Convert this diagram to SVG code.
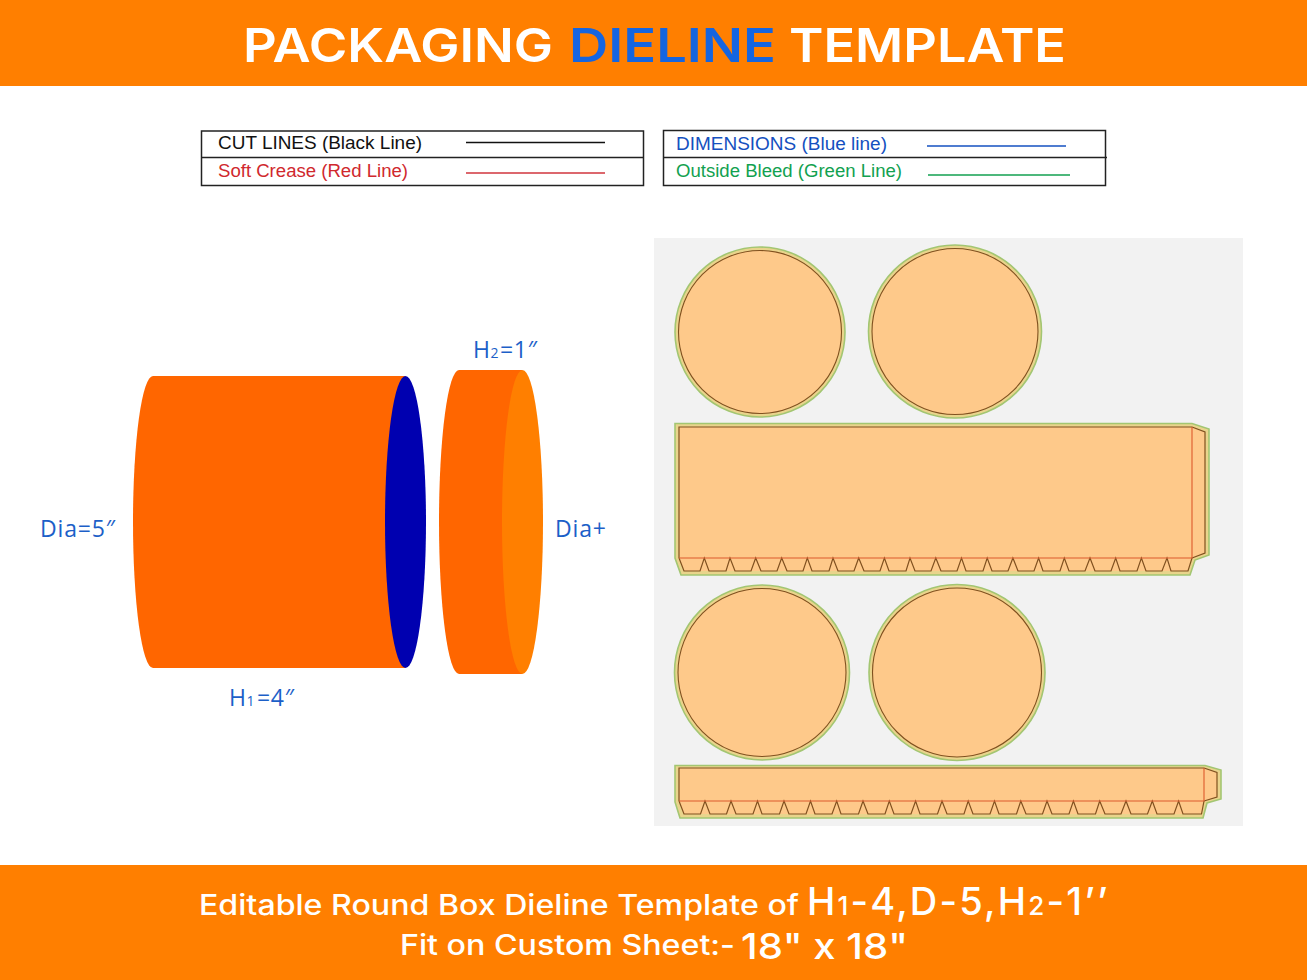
<svg xmlns="http://www.w3.org/2000/svg" width="1307" height="980" viewBox="0 0 1307 980">
<style>
.band{fill:#ff7f00}
.hd{font-family:"Inter","Liberation Sans",sans-serif;font-weight:600;font-size:46px}
.ft{font-family:"Inter","Liberation Sans",sans-serif;font-weight:500;fill:#fff}
.lg{font-family:"Liberation Sans",Arial,sans-serif;font-size:18.300px}
.dim{font-family:"Open Sans","Noto Sans",sans-serif;font-size:23px;fill:#1c5fc8}
.sub{font-family:"Open Sans","Noto Sans",sans-serif;font-size:14px;fill:#1c5fc8}
.box{fill:none;stroke:#222;stroke-width:1.5}
.bleed{fill:#e9d48c;stroke:#a3c672;stroke-width:1.6}
.art{fill:#fec98a;stroke:#80501f;stroke-width:1.1}
.crease{fill:none;stroke:#dc5a2c;stroke-width:1.1}
.cut{fill:none;stroke:#80501f;stroke-width:1.2}
</style>
<rect width="1307" height="980" fill="#fff"/>
<g id="header">
<rect class="band" width="1307" height="86"/>
<text class="hd" x="243" y="62" fill="#fff" textLength="310" lengthAdjust="spacingAndGlyphs">PACKAGING</text>
<text class="hd" x="569" y="62" fill="#1565e0" textLength="207" lengthAdjust="spacingAndGlyphs">DIELINE</text>
<text class="hd" x="789" y="62" fill="#fff" textLength="277" lengthAdjust="spacingAndGlyphs">TEMPLATE</text>
</g>
<g id="legend-left">
<rect class="box" x="201.500" y="131" width="442" height="54.500"/>
<line class="box" x1="201" y1="157.500" x2="644" y2="157.500"/>
<text class="lg" x="218" y="149" fill="#111" textLength="204" lengthAdjust="spacingAndGlyphs">CUT LINES (Black Line)</text>
<text class="lg" x="218" y="177" fill="#d0282e" textLength="190" lengthAdjust="spacingAndGlyphs">Soft Crease (Red Line)</text>
<line x1="466" y1="142.500" x2="605" y2="142.500" stroke="#111" stroke-width="1.500"/>
<line x1="466" y1="173" x2="605" y2="173" stroke="#d0343c" stroke-width="1.500"/>
</g>
<g id="legend-right">
<rect class="box" x="663.500" y="130.500" width="442" height="55"/>
<line class="box" x1="663" y1="157.500" x2="1107" y2="157.500"/>
<text class="lg" x="676" y="150" fill="#1450c0" textLength="211" lengthAdjust="spacingAndGlyphs">DIMENSIONS (Blue line)</text>
<text class="lg" x="676" y="177" fill="#12a150" textLength="226" lengthAdjust="spacingAndGlyphs">Outside Bleed (Green Line)</text>
<line x1="927" y1="146" x2="1066" y2="146" stroke="#1450c0" stroke-width="1.500"/>
<line x1="928" y1="175" x2="1070" y2="175" stroke="#12a150" stroke-width="1.500"/>
</g>
<g id="box-base">
<path d="M153,376H405V668H153A20,146 0 0 1 153,376Z" fill="#ff6600"/>
<ellipse cx="405.500" cy="522" rx="20.500" ry="146" fill="#0000b0"/>
</g>
<g id="box-lid">
<path d="M459,370H522V674H459A20,152 0 0 1 459,370Z" fill="#ff6600"/>
<ellipse cx="522.500" cy="522" rx="20.500" ry="152" fill="#ff7f00"/>
</g>
<g id="dimension-labels">
<text class="dim" x="40" y="536.500" textLength="75" lengthAdjust="spacing">Dia=5″</text>
<text class="dim" x="555" y="536.500" textLength="51" lengthAdjust="spacing">Dia+</text>
<text class="dim" x="473" y="358">H</text><text class="sub" x="490.500" y="358">2</text><text class="dim" x="500" y="358" textLength="37" lengthAdjust="spacing">=1″</text>
<text class="dim" x="229" y="705.500">H</text><text class="sub" x="246.500" y="705.500">1</text><text class="dim" x="257" y="705.500" textLength="37" lengthAdjust="spacing">=4″</text>
</g>
<rect id="sheet" x="654" y="238" width="589" height="588" fill="#f2f2f2"/>
<g id="circle-1"><circle class="bleed" cx="760" cy="332" r="85"/><circle class="art" cx="760" cy="332" r="81.500"/></g>
<g id="circle-2"><circle class="bleed" cx="955" cy="331.500" r="86.500"/><circle class="art" cx="955" cy="331.500" r="83"/></g>
<g id="circle-3"><circle class="bleed" cx="762" cy="672.500" r="87.500"/><circle class="art" cx="762" cy="672.500" r="84"/></g>
<g id="circle-4"><circle class="bleed" cx="957" cy="672.500" r="88"/><circle class="art" cx="957" cy="672.500" r="84.500"/></g>
<g id="strip-1">
<path class="bleed" d="M675,423.500H1192L1209,429V555L1195,560L1190,575H681L675,558Z"/>
<path d="M679,427H1192L1205,432V553L1192,558L1188,571H684L679,558Z" fill="#fec98a"/>
<path class="cut" d="M1192,427H679V558M1192,427L1205,432V553L1192,558M679,558L684,571H700L704.300,558L709,571H726L730,558L735,571H751L755.700,558L761,571H777L781.700,558L787,571H803L807.300,558L812,571H829L833,558L838,571H854L858.700,558L864,571H880L884.400,558L889,571H906L910,558L915,571H931L935.800,558L941,571H957L961.500,558L966,571H983L987.200,558L992,571H1008L1012.900,558L1018,571H1034L1038.600,558L1043,571H1060L1064.300,558L1069,571H1085L1090,558L1095,571H1111L1115.700,558L1120,571H1137L1141.400,558L1146,571H1162L1167,558L1171,571H1188L1192,558"/>
<path class="crease" d="M679,558H1192V427"/>
</g>
<g id="strip-2">
<path class="bleed" d="M675,765.500H1205L1221,770V799L1207,803L1203,818H680L675,802Z"/>
<path d="M679,768H1204L1217,772.500V797L1204,801L1201.500,814H684L679,801Z" fill="#fec98a"/>
<path class="cut" d="M1204,768H679V801M1204,768L1217,772.500V797L1204,801M679,801L684,814H700.500L705,801L710,814H726.500L731,801L736,814H753L757.500,801L762,814H779.500L784,801L789,814H806L810.500,801L815,814H832L836.700,801L841,814H858.500L863,801L868,814H885L889.300,801L894,814H911L915.600,801L920,814H937.500L942,801L947,814H964L968.200,801L973,814H990L994.500,801L999,814H1016.500L1020.800,801L1026,814H1042.500L1047,801L1052,814H1069L1073.400,801L1078,814H1095.500L1099.700,801L1105,814H1121L1126,801L1131,814H1147.500L1152.300,801L1157,814H1174L1178.600,801L1183,814H1201.500L1204,801"/>
<path class="crease" d="M679,801H1204V768"/>
</g>
<g id="footer">
<rect class="band" y="865" width="1307" height="115"/>
<text class="ft" x="199" y="915" font-size="28" textLength="600" lengthAdjust="spacingAndGlyphs">Editable Round Box Dieline Template of</text>
<text class="ft" x="807" y="914.500" font-size="38" letter-spacing="2.2">H<tspan font-size="26">1</tspan>-4,D-5,H<tspan font-size="26">2</tspan>-1’’</text>
<text class="ft" x="400" y="955" font-size="28" textLength="335" lengthAdjust="spacingAndGlyphs">Fit on Custom Sheet:-</text>
<text class="ft" x="741" y="958.500" font-size="36" textLength="167" lengthAdjust="spacingAndGlyphs">18" x 18"</text>
</g>
</svg>
